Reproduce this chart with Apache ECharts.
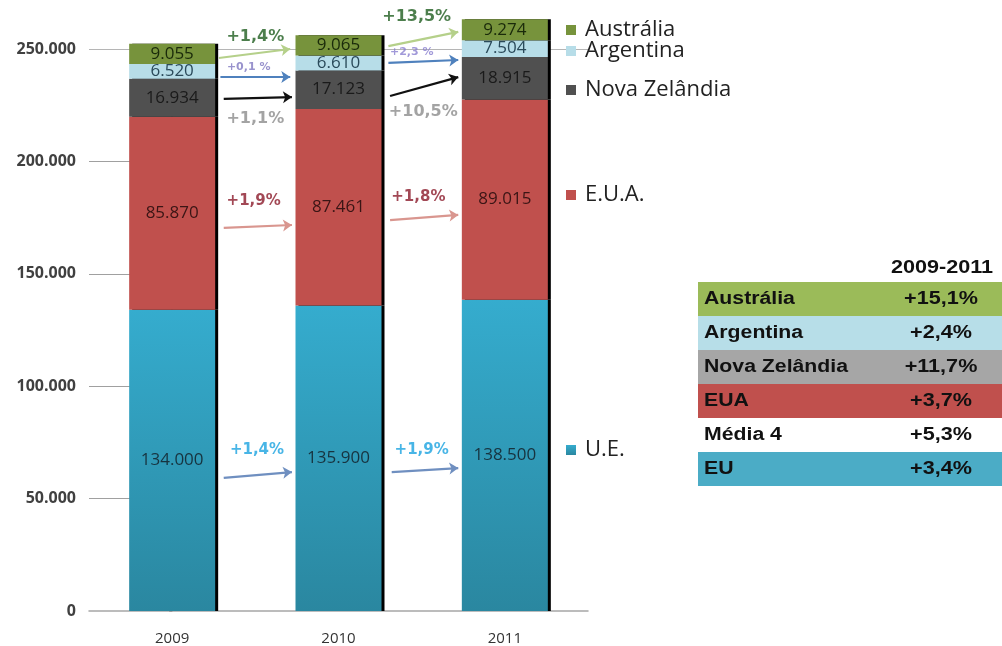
<!DOCTYPE html>
<html>
<head>
<meta charset="utf-8">
<script src="https://cdn.jsdelivr.net/npm/echarts@6/dist/echarts.min.js"></script>
<style>
  html, body { margin: 0; padding: 0; background: #fff; }
  #chart { width: 1002px; height: 646px; }
</style>
</head>
<body>
<div id="chart"></div>
<script>
const years = ['2009', '2010', '2011'];
const ue = [134000, 135900, 138500];
const eua = [85870, 87461, 89015];
const novaZelandia = [16934, 17123, 18915];
const argentina = [6520, 6610, 7504];
const australia = [9055, 9065, 9274];
const yTicks = [0, 50000, 100000, 150000, 200000];

// growth table 2009-2011
const tableNames = ['Austrália', 'Argentina', 'Nova Zelândia', 'EUA', 'Média 4', 'EU'];
const tableValues = ['+15,1%', '+2,4%', '+11,7%', '+3,7%', '+5,3%', '+3,4%'];
const tableColors = ['#9bbb59', '#b7dee8', '#a6a6a6', '#c0504d', '#ffffff', '#4bacc6'];

// year-on-year arrows: [x1, y1, x2, y2] in (category index, value) units
const arrowLines = [
  [0.28, 246000, 0.71, 250000, '#b5d08a'],
  [1.30, 251300, 1.72, 257600, '#b5d08a'],
  [0.29, 237500, 0.71, 237500, '#4f81bd'],
  [1.30, 243800, 1.72, 245100, '#4f81bd'],
  [0.31, 227800, 0.72, 228600, '#111111'],
  [1.31, 229100, 1.72, 237500, '#111111'],
  [0.31, 170400, 0.72, 171700, '#d9968f'],
  [1.31, 173900, 1.72, 176200, '#d9968f'],
  [0.31, 59200, 0.72, 61800, '#6f8fc0'],
  [1.32, 61800, 1.72, 63600, '#6f8fc0']
];
// arrow labels: [x, y, text, colour, size]
const arrowLabels = [
  [0.50, 255600, '+1,4%', '#1f5e1f', 16],
  [1.47, 264200, '+13,5%', '#1f5e1f', 16],
  [0.46, 241800, '+0,1 %', '#7f78c0', 11],
  [1.44, 248700, '+2,3 %', '#8a7fd0', 11],
  [0.50, 219100, '+1,1%', '#8c8c8c', 16],
  [1.51, 222000, '+10,5%', '#8c8c8c', 16],
  [0.49, 182200, '+1,9%', '#8b1a2a', 15],
  [1.48, 184000, '+1,8%', '#8b1a2a', 15],
  [0.51, 71600, '+1,4%', '#1aa3e0', 15],
  [1.50, 71600, '+1,9%', '#1aa3e0', 15]
];

const fmt = v => String(v).replace(/\B(?=(\d{3})+(?!\d))/g, '.');

const chart = echarts.init(document.getElementById('chart'));

const barSeries = (name, data, color, labelColor) => ({
  name: name,
  type: 'bar',
  stack: 'total',
  data: data,
  barWidth: 86,
  clip: false,
  itemStyle: {
    color: color,
    shadowColor: '#000',
    shadowOffsetX: 3,
    shadowOffsetY: 0,
    shadowBlur: 0
  },
  label: {
    show: true,
    position: 'inside',
    formatter: p => fmt(p.value),
    fontFamily: 'Open Sans',
    fontSize: 17,
    color: labelColor
  }
});

const legendItem = (name, top) => ({
  data: [name],
  left: 566,
  top: top,
  padding: 0,
  selectedMode: false,
  icon: 'rect',
  itemWidth: 10,
  itemHeight: 10,
  textStyle: { fontFamily: 'Open Sans', fontSize: 22, color: '#222', padding: [0, 0, 0, 4] }
});

const tableFont = 'bold 18px "Liberation Sans"';
const graphics = [];
graphics.push({
  type: 'text',
  x: 942,
  y: 268,
  scaleX: 1.2,
  style: { text: '2009-2011', font: tableFont, fill: '#111', align: 'center', verticalAlign: 'middle' }
});
tableNames.forEach((n, i) => {
  const y = 282 + i * 34;
  graphics.push({
    type: 'rect',
    shape: { x: 698, y: y, width: 304, height: 34 },
    style: { fill: tableColors[i] }
  });
  graphics.push({
    type: 'text',
    x: 704,
    y: y + 17,
    scaleX: 1.18,
    style: { text: n, font: tableFont, fill: '#111', verticalAlign: 'middle' }
  });
  graphics.push({
    type: 'text',
    x: 941,
    y: y + 17,
    scaleX: 1.2,
    style: { text: tableValues[i], font: tableFont, fill: '#111', align: 'center', verticalAlign: 'middle' }
  });
});

chart.setOption({
  animation: false,
  grid: { left: 89, right: 414, top: 49, bottom: 35 },
  legend: [
    legendItem('Austrália', 19),
    legendItem('Argentina', 40),
    legendItem('Nova Zelândia', 79),
    legendItem('E.U.A.', 184),
    legendItem('U.E.', 439)
  ],
  xAxis: [
    {
      type: 'category',
      data: years,
      axisLine: { lineStyle: { color: '#a6a6a6', width: 1.5 } },
      axisTick: { show: false },
      axisLabel: { fontFamily: 'Open Sans', fontSize: 15, color: '#333', margin: 20 }
    },
    { type: 'value', min: -0.5, max: 2.5, show: false }
  ],
  yAxis: {
    type: 'value',
    min: 0,
    max: 250000,
    interval: 50000,
    axisLine: { show: true, lineStyle: { color: '#a6a6a6', width: 1.5 } },
    axisTick: { show: true, length: 3, lineStyle: { color: '#9a9a9a' } },
    splitLine: { show: true, lineStyle: { color: ['none', 'none', 'none', 'none', 'none', '#b5b5b5'] } },
    axisLabel: {
      formatter: fmt,
      fontFamily: 'Open Sans',
      fontWeight: 'bold',
      fontSize: 16,
      color: '#404040',
      margin: 13
    }
  },
  series: [
    barSeries('U.E.', ue, new echarts.graphic.LinearGradient(0, 0, 0, 1, [
      { offset: 0, color: '#35acce' },
      { offset: 1, color: '#2a87a0' }
    ]), '#17333f'),
    barSeries('E.U.A.', eua, '#c0504d', '#3a1515'),
    barSeries('Nova Zelândia', novaZelandia, '#505050', '#1a1a1a'),
    barSeries('Argentina', argentina, '#b7dde8', '#2a4a5a'),
    barSeries('Austrália', australia, '#77933c', '#1a2a0a'),
    {
      // short gridline stubs between the axis and the first bar
      type: 'lines',
      coordinateSystem: 'cartesian2d',
      xAxisIndex: 1,
      yAxisIndex: 0,
      z: 1,
      silent: true,
      lineStyle: { color: '#a0a0a0', width: 1, opacity: 1 },
      data: yTicks.slice(1).map(v => ({ coords: [[-0.5, v], [-0.25, v]] }))
    },
    {
      type: 'lines',
      coordinateSystem: 'cartesian2d',
      xAxisIndex: 1,
      yAxisIndex: 0,
      clip: false,
      z: 5,
      symbol: ['none', 'arrow'],
      symbolSize: 9,
      data: arrowLines.map(a => ({
        coords: [[a[0], a[1]], [a[2], a[3]]],
        lineStyle: { color: a[4], width: 2.2, opacity: 1 }
      }))
    },
    {
      type: 'scatter',
      xAxisIndex: 1,
      yAxisIndex: 0,
      clip: false,
      symbolSize: 0,
      z: 6,
      data: arrowLabels.map(l => ({
        value: [l[0], l[1]],
        label: {
          show: true,
          position: 'inside',
          formatter: l[2],
          color: l[3],
          fontSize: l[4],
          fontWeight: 'bold',
          fontFamily: 'DejaVu Sans'
        }
      }))
    }
  ],
  graphic: graphics
});
</script>
</body>
</html>
